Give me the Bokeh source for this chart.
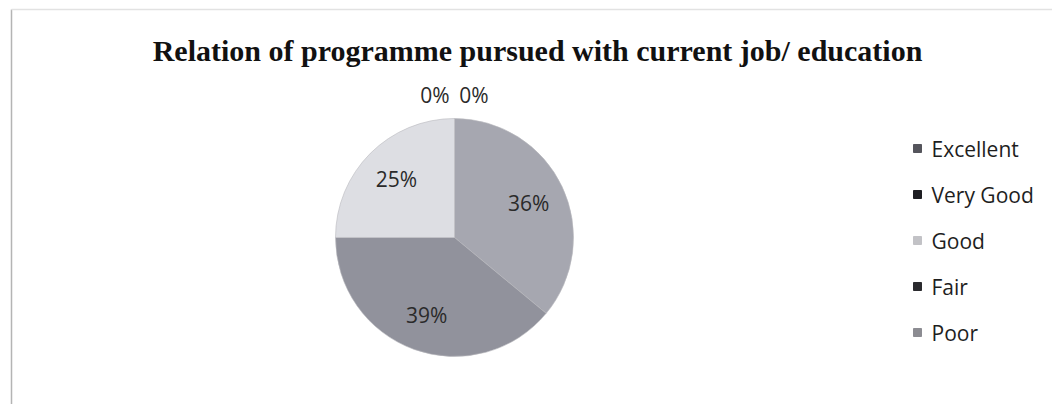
import numpy as np
from bokeh.plotting import figure
from bokeh.models import Range1d, ColumnDataSource
from bokeh.core.properties import value
from bokeh.embed import file_html
from bokeh.resources import INLINE

# ---- data ----
title = "Relation of programme pursued with current job/ education"
categories = ["Excellent", "Very Good", "Good", "Fair", "Poor"]
percents = [36, 39, 25, 0, 0]
slice_colors = ["#a6a7b0", "#91929c", "#dddee3", "#3a3a40", "#8a8a92"]
legend_colors = ["#55555c", "#1e1e22", "#c2c2c6", "#2a2a2e", "#8c8c92"]

W, H = 1052, 404
p = figure(width=W, height=H, output_backend="svg", toolbar_location=None,
           x_range=Range1d(0, W), y_range=Range1d(-H, 0),
           min_border=0, outline_line_color=None)
p.axis.visible = False
p.grid.visible = False
p.background_fill_color = "white"
p.border_fill_color = "white"

def sx(x):
    return x

def sy(y):
    return -y

# faint scan frame (left and top edges)
p.segment(x0=[sx(11), sx(11)], y0=[sy(9), sy(9)], x1=[sx(11), sx(1052)],
          y1=[sy(404), sy(9)], line_color=["#b4b4b4", "#e2e2e2"], line_width=1.5)

# title
p.text(x=[sx(537)], y=[sy(50)], text=[title], text_font=value("Liberation Serif"),
       text_font_style="bold", text_font_size="30px", text_align="center",
       text_baseline="middle", text_color="#111111")

# pie
cx, cy, R = sx(454), sy(237), 119
vals = np.array(percents, dtype=float)
frac = vals / vals.sum()
cum = np.concatenate([[0], np.cumsum(frac)])
start = np.pi / 2 - 2 * np.pi * cum[:-1]
end = np.pi / 2 - 2 * np.pi * cum[1:]
nz = vals > 0
src = ColumnDataSource(dict(start=start[nz], end=end[nz],
                            color=[c for c, k in zip(slice_colors, nz) if k]))
p.wedge(x=cx, y=cy, radius=R, start_angle="start", end_angle="end",
        direction="clock", fill_color="color", line_color="#b8b8be",
        line_width=0.6, source=src)

# data labels
lx, ly, lt = [], [], []
zero_idx = [i for i in range(len(vals)) if vals[i] == 0]
for i, v in enumerate(vals):
    mid = (start[i] + end[i]) / 2
    if v > 0:
        r = 0.69 * R
        lx.append(cx + r * np.cos(mid))
        ly.append(cy + r * np.sin(mid))
    else:
        k = zero_idx.index(i) - (len(zero_idx) - 1) / 2
        lx.append(cx + k * 39)
        ly.append(cy + (R + 24) * np.sin(mid))
    lt.append(f"{int(v)}%")
p.text(x=lx, y=ly, text=lt, text_font=value("Open Sans"), text_font_size="21px",
       text_align="center", text_baseline="middle", text_color="#2a2a2a")

# legend
ys = [sy(148 + 46 * i) for i in range(len(categories))]
p.scatter(x=[sx(917)] * len(categories), y=ys, marker="square", size=8,
          fill_color=legend_colors, line_color=legend_colors)
p.text(x=[sx(931)] * len(categories), y=ys, text=categories,
       text_font=value("Open Sans"), text_font_size="21px",
       text_align="left", text_baseline="middle", text_color="#1e1e1e")

open("out.html", "w").write(file_html(p, INLINE))
